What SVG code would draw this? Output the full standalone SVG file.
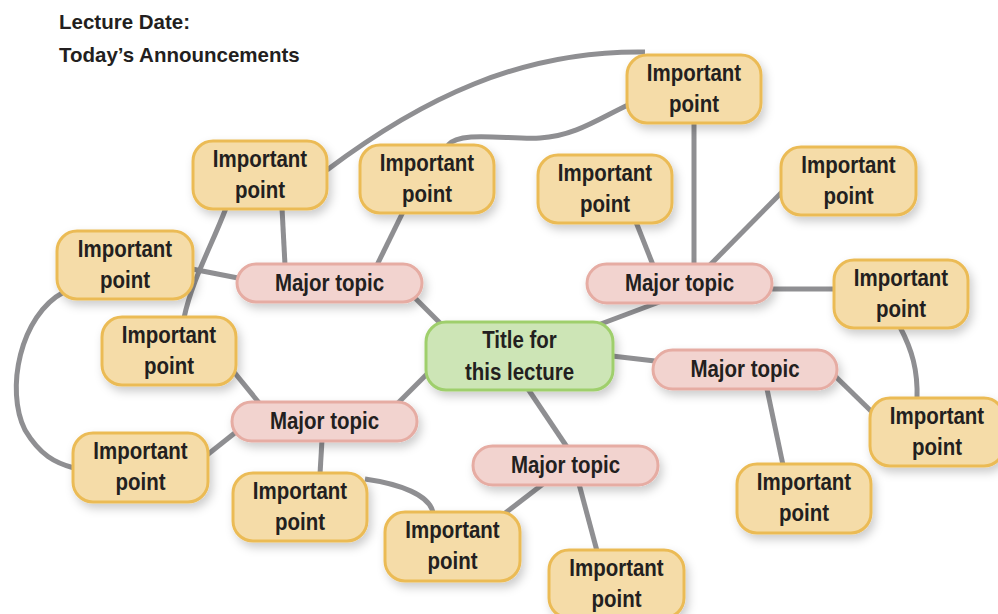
<svg xmlns="http://www.w3.org/2000/svg" width="998" height="614" viewBox="0 0 998 614">
<defs>
<filter id="sh" x="-20%" y="-30%" width="150%" height="180%">
<feDropShadow dx="3" dy="5" stdDeviation="5" flood-color="#000" flood-opacity="0.2"/>
</filter>
<style>
.c{fill:none;stroke:#8f8f92;stroke-width:5;stroke-linecap:butt}
.ip{fill:#f5dca8;stroke:#ebbb55;stroke-width:3;filter:url(#sh)}
.mt{fill:#f2d3cf;stroke:#e6aca3;stroke-width:3;filter:url(#sh)}
.ti{fill:#cde5b6;stroke:#9fcf6c;stroke-width:3;filter:url(#sh)}
text{font-family:"Liberation Sans",Arial,sans-serif;font-weight:bold;font-size:23px;fill:#231f20;text-anchor:middle}
.h{text-anchor:start;font-size:20.5px}
</style>
</defs>
<rect width="998" height="614" fill="#fff"/>
<text class="h" x="59" y="29">Lecture Date:</text>
<text class="h" x="59" y="62">Today’s Announcements</text>
<g id="connectors">
<path class="c" d="M327,170 C420,100 520,50 645,52"/>
<path class="c" d="M448,145 C460,130 510,140 540,138 C575,136 600,118 628,105"/>
<path class="c" d="M694,123 L694,265"/>
<path class="c" d="M784,190 L710,265"/>
<path class="c" d="M636,222 L653,265"/>
<path class="c" d="M772,289 L835,289"/>
<path class="c" d="M662,301 L598,325"/>
<path class="c" d="M612,356 L655,361"/>
<path class="c" d="M834,375 L872,412"/>
<path class="c" d="M900,327 C912,350 918,370 917,399"/>
<path class="c" d="M767,389 L783,465"/>
<path class="c" d="M528,389 L567,447"/>
<path class="c" d="M543,484 L504,514"/>
<path class="c" d="M579,484 L597,551"/>
<path class="c" d="M365,479 C400,484 430,495 433,513"/>
<path class="c" d="M322,440 L320,474"/>
<path class="c" d="M236,432 L207,455"/>
<path class="c" d="M234,372 L260,404"/>
<path class="c" d="M397,404 L429,372"/>
<path class="c" d="M414,297 L441,324"/>
<path class="c" d="M377,265 L403,212"/>
<path class="c" d="M282,208 L285,265"/>
<path class="c" d="M192,269 L238,278"/>
<path class="c" d="M226,208 C212,245 192,280 184,318"/>
<path class="c" d="M64,292 C20,315 5,390 25,430 C40,455 55,463 74,468"/>
</g>
<g id="title"><rect class="ti" x="426" y="322" width="187" height="68" rx="20"/><text transform="translate(519.5,348) scale(0.89,1)">Title for</text><text transform="translate(519.5,380) scale(0.89,1)">this lecture</text></g>
<g id="mt1"><rect class="mt" x="237" y="264" width="185" height="38" rx="19"/><text transform="translate(329.5,291) scale(0.89,1)">Major topic</text></g>
<g id="mt2"><rect class="mt" x="587" y="264" width="185" height="39" rx="19.5"/><text transform="translate(679.5,291) scale(0.89,1)">Major topic</text></g>
<g id="mt3"><rect class="mt" x="653" y="350" width="184" height="39" rx="19.5"/><text transform="translate(745,377) scale(0.89,1)">Major topic</text></g>
<g id="mt4"><rect class="mt" x="232" y="402" width="185" height="39" rx="19.5"/><text transform="translate(324.5,429) scale(0.89,1)">Major topic</text></g>
<g id="mt5"><rect class="mt" x="473" y="446" width="185" height="39" rx="19.5"/><text transform="translate(565.5,473) scale(0.89,1)">Major topic</text></g>
<g id="ip1"><rect class="ip" x="627" y="55" width="134" height="68" rx="20"/><text transform="translate(694,81) scale(0.89,1)">Important</text><text transform="translate(694,112) scale(0.89,1)">point</text></g>
<g id="ip2"><rect class="ip" x="193" y="141" width="134" height="68" rx="20"/><text transform="translate(260,167) scale(0.89,1)">Important</text><text transform="translate(260,198) scale(0.89,1)">point</text></g>
<g id="ip3"><rect class="ip" x="360" y="145" width="134" height="68" rx="20"/><text transform="translate(427,171) scale(0.89,1)">Important</text><text transform="translate(427,202) scale(0.89,1)">point</text></g>
<g id="ip4"><rect class="ip" x="538" y="155" width="134" height="68" rx="20"/><text transform="translate(605,181) scale(0.89,1)">Important</text><text transform="translate(605,212) scale(0.89,1)">point</text></g>
<g id="ip5"><rect class="ip" x="781" y="147" width="135" height="68" rx="20"/><text transform="translate(848.5,173) scale(0.89,1)">Important</text><text transform="translate(848.5,204) scale(0.89,1)">point</text></g>
<g id="ip6"><rect class="ip" x="57" y="231" width="136" height="68" rx="20"/><text transform="translate(125,257) scale(0.89,1)">Important</text><text transform="translate(125,288) scale(0.89,1)">point</text></g>
<g id="ip7"><rect class="ip" x="102" y="317" width="134" height="68" rx="20"/><text transform="translate(169,343) scale(0.89,1)">Important</text><text transform="translate(169,374) scale(0.89,1)">point</text></g>
<g id="ip8"><rect class="ip" x="834" y="260" width="134" height="68" rx="20"/><text transform="translate(901,286) scale(0.89,1)">Important</text><text transform="translate(901,317) scale(0.89,1)">point</text></g>
<g id="ip9"><rect class="ip" x="73" y="433" width="135" height="69" rx="20"/><text transform="translate(140.5,459) scale(0.89,1)">Important</text><text transform="translate(140.5,490) scale(0.89,1)">point</text></g>
<g id="ip10"><rect class="ip" x="233" y="473" width="134" height="68" rx="20"/><text transform="translate(300,499) scale(0.89,1)">Important</text><text transform="translate(300,530) scale(0.89,1)">point</text></g>
<g id="ip11"><rect class="ip" x="385" y="512" width="135" height="69" rx="20"/><text transform="translate(452.5,538) scale(0.89,1)">Important</text><text transform="translate(452.5,569) scale(0.89,1)">point</text></g>
<g id="ip12"><rect class="ip" x="549" y="550" width="135" height="68" rx="20"/><text transform="translate(616.5,576) scale(0.89,1)">Important</text><text transform="translate(616.5,607) scale(0.89,1)">point</text></g>
<g id="ip13"><rect class="ip" x="737" y="464" width="134" height="69" rx="20"/><text transform="translate(804,490) scale(0.89,1)">Important</text><text transform="translate(804,521) scale(0.89,1)">point</text></g>
<g id="ip14"><rect class="ip" x="870" y="398" width="134" height="68" rx="20"/><text transform="translate(937,424) scale(0.89,1)">Important</text><text transform="translate(937,455) scale(0.89,1)">point</text></g>
</svg>
